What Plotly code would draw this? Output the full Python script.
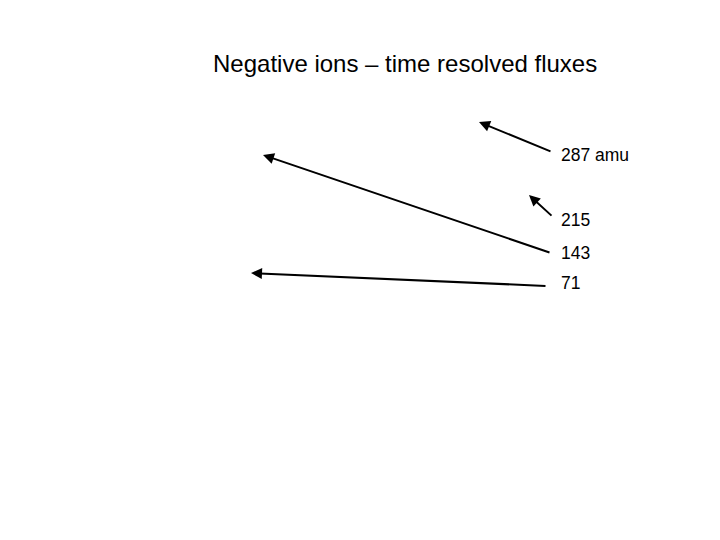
import plotly.graph_objects as go

# slide-like figure: arrows pointing left to traces, labelled by mass
labels = ["287 amu", "215", "143", "71"]
tail_x = [552, 553, 551, 547]
tail_y = [152, 217, 253, 286]
head_x = [479, 529, 263, 251]
head_y = [122, 195, 155, 273]
label_x = [559, 559, 559, 559]
label_y = [155, 219.5, 252.5, 283]

title_text = "Negative ions \u2013 time resolved fluxes"

# the page body has an 8px margin, so shift the axis ranges to compensate
offset = 8

fig = go.Figure()

# invisible trace to set up the axes
fig.add_trace(go.Scatter(x=label_x, y=label_y, mode="markers",
                         marker=dict(opacity=0), hoverinfo="skip", showlegend=False))

for lx, ly, tx, ty, hx, hy, lab in zip(label_x, label_y, tail_x, tail_y,
                                       head_x, head_y, labels):
    fig.add_annotation(x=hx, y=hy, ax=tx, ay=ty, xref="x", yref="y",
                       axref="x", ayref="y", text="", showarrow=True,
                       arrowhead=2, arrowsize=1.1, arrowwidth=2,
                       arrowcolor="black")
    fig.add_annotation(x=lx, y=ly, xref="x", yref="y", text=lab,
                       showarrow=False, xanchor="left", yanchor="middle",
                       font=dict(family="Liberation Sans, Arial", size=17.5,
                                 color="black"))

fig.add_annotation(x=405, y=63, xref="x", yref="y", text=title_text,
                   showarrow=False, xanchor="center", yanchor="middle",
                   font=dict(family="Liberation Sans, Arial", size=24,
                             color="black"))

fig.update_xaxes(range=[offset, 720 + offset], visible=False, fixedrange=True)
fig.update_yaxes(range=[540 + offset, offset], visible=False, fixedrange=True)
fig.update_layout(width=720, height=540, margin=dict(l=0, r=0, t=0, b=0),
                  paper_bgcolor="white", plot_bgcolor="white")

fig.write_html("out.html")
